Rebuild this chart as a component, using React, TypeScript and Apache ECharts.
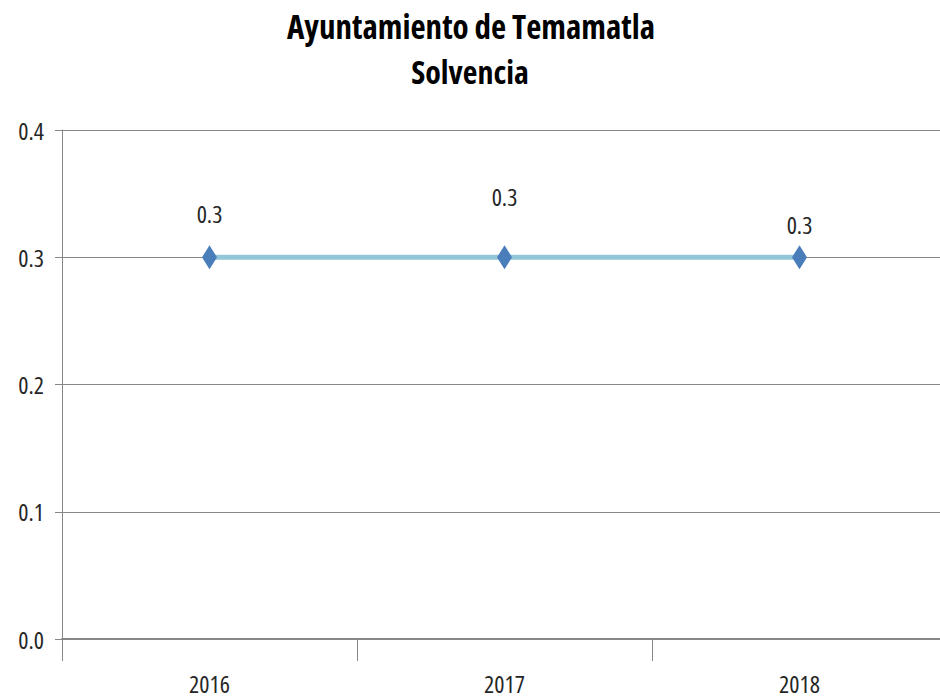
import React, { useEffect, useRef } from "react";
import * as echarts from "echarts";

const titleText = "Ayuntamiento de Temamatla";
const subtitleText = "Solvencia";
const categories = ["2016", "2017", "2018"];
const values = [0.3, 0.3, 0.3];
const labelOffsets = [-44, -61, -33];
const yTicks = [0, 0.1, 0.2, 0.3, 0.4];

const FONT = "'Open Sans', 'Liberation Sans', sans-serif";
const TEXT = "#262626";
const GRID = "#878787";

export default function App() {
  const ref = useRef<HTMLDivElement>(null);
  useEffect(() => {
    if (!ref.current) return;
    const chart = echarts.init(ref.current, null, { renderer: "svg" });
    chart.setOption({
      animation: false,
      backgroundColor: "#ffffff",
      graphic: [
        {
          type: "text",
          x: 471,
          y: 10,
          style: {
            text: titleText,
            textAlign: "center",
            textVerticalAlign: "top",
            fontFamily: FONT,
            fontWeight: "bold",
            fontSize: 33,
            fill: "#000",
          },
        },
        {
          type: "text",
          x: 470,
          y: 55,
          style: {
            text: subtitleText,
            textAlign: "center",
            textVerticalAlign: "top",
            fontFamily: FONT,
            fontWeight: "bold",
            fontSize: 32,
            fill: "#000",
          },
        },
      ],
      grid: { left: 62, width: 885, top: 130, height: 509, containLabel: false },
      xAxis: {
        type: "category",
        data: categories,
        boundaryGap: true,
        axisLine: { show: true, lineStyle: { color: GRID, width: 2 } },
        axisTick: { show: true, length: 22, lineStyle: { color: GRID } },
        axisLabel: { fontFamily: FONT, fontSize: 24, color: TEXT, margin: 32 },
      },
      yAxis: {
        type: "value",
        min: 0,
        max: 0.4,
        interval: 0.1,
        axisLine: { show: true, lineStyle: { color: GRID } },
        axisTick: { show: true, length: 7, lineStyle: { color: GRID } },
        axisLabel: {
          fontFamily: FONT,
          fontSize: 24,
          color: TEXT,
          margin: 18,
          formatter: (v: number) => (yTicks.includes(Math.round(v * 10) / 10) ? v.toFixed(1) : ""),
        },
        splitLine: { show: true, lineStyle: { color: GRID, width: 1 } },
      },
      series: [
        {
          type: "line",
          data: values.map((v, i) => ({
            value: v,
            label: { offset: [0, labelOffsets[i]] },
          })),
          symbol: "diamond",
          symbolSize: [15, 24],
          lineStyle: { color: "#93c6d8", width: 5 },
          itemStyle: { color: "#4a7ebb" },
          label: {
            show: true,
            position: "inside",
            fontFamily: FONT,
            fontSize: 24,
            color: TEXT,
            formatter: (p: any) => p.value.toFixed(1),
          },
        },
      ],
    });
    return () => chart.dispose();
  }, []);
  return (
    <div style={{ position: "absolute", left: 0, top: 0, width: 940, height: 700, overflow: "hidden" }}>
      <style>{"#chart svg text { font-stretch: 75% !important; }"}</style>
      <div id="chart" ref={ref} style={{ width: 960, height: 700 }} />
    </div>
  );
}
